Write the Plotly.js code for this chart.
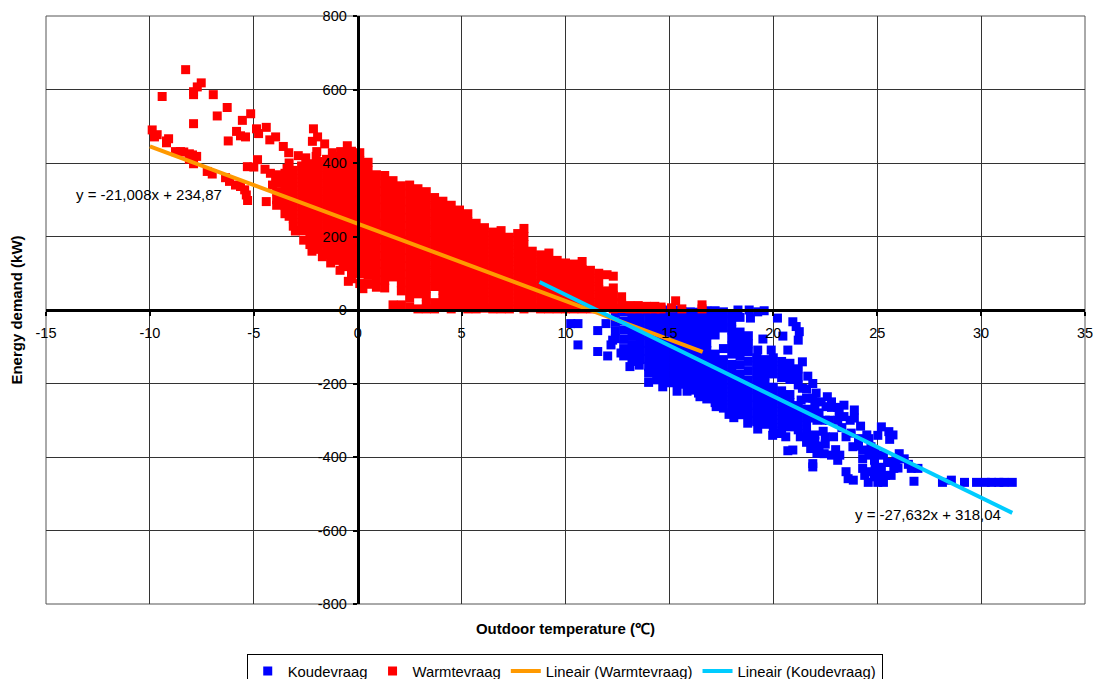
<!DOCTYPE html>
<html>
<head>
<meta charset="utf-8">
<script src="https://cdn.plot.ly/plotly-3.0.1.min.js"></script>
<style>html,body{margin:0;padding:0;width:1093px;height:679px;overflow:hidden;background:#fff}</style>
</head>
<body>
<div id="chart"></div>
<script>
// Warmtevraag: scattered points of the cold spell as [temperature, demand]
const warmColdSpell = [[-8.28,654],[-9.41,581],[-7.53,618],[-7.72,607],[-7.9,594],[-7.9,586],[-6.95,586],[-6.28,551],[-6.76,528],[-7.9,507],[-5.15,534],[-5.55,516],[-6.23,460],[-5.83,486],[-5.64,474],[-5.4,471],[-4.87,493],[-4.77,480],[-4.4,497],[-4.23,463],[-3.95,471],[-3.58,445],[-3.32,428],[-2.86,420],[-3.3,400],[-2.13,493],[-1.93,471],[-2.18,459],[-1.59,452],[-1.97,431],[-1.22,428],[-0.82,431],[-0.5,447],[-9.89,490],[-9.65,477],[-9.78,471],[-9.1,466],[-9.2,460],[-9.2,455],[-8.77,431],[-8.53,431],[-8.37,430],[-8.1,425],[-7.95,422],[-7.75,418],[-8.1,410],[-7.9,398],[-7.24,377],[-7,370],[-6.36,360],[-6.17,350],[-5.88,340],[-5.64,336],[-5.44,327],[-5.36,313],[-5.3,298],[-4.4,295],[-5.31,390],[-5,389],[-4.82,409],[-4.46,383],[-4.2,372],[-3.95,362],[-3.7,350],[-3.4,385],[-2.5,414],[-2.0,418],[-4.1,340],[-3.7,318],[-3.9,285],[-3.3,255],[-3.0,215],[-2.6,190],[-2.2,160],[-1.7,145],[-1.3,128],[-0.85,108],[-0.45,78],[0.25,58]];
// Warmtevraag: the dense cloud, one list of demand values per temperature
const warmCoreColumns = [
[-3.9,[368,345,322,300]],
[-3.5,[372,350,328,306,284,262]],
[-3.1,[380,358,336,314,292,270,248,228]],
[-2.7,[392,370,348,326,304,282,260,238,216]],
[-2.3,[398,376,354,332,310,288,266,244,222,200,178]],
[-1.9,[404,382,360,338,316,294,272,250,228,206,184,165]],
[-1.5,[410,388,366,344,322,300,278,256,234,212,190,168,150]],
[-1.1,[418,396,374,352,330,308,286,264,242,220,198,176,154,135]],
[-0.7,[425,403,381,359,337,315,293,271,249,227,205,183,161,139,118]],
[-0.3,[432,410,388,366,344,322,300,278,256,234,212,190,168,146,124,102,85]],
[0.1,[428,406,384,362,340,318,296,274,252,230,208,186,164,142,120,98,72]],
[0.5,[402,380,358,336,314,292,270,248,226,204,182,160,138,116,94,70]],
[0.9,[368,346,324,302,280,258,236,214,192,170,148,126,104,82,62]],
[1.3,[366,344,322,300,278,256,234,212,190,168,146,124,102,80,60]],
[1.7,[352,330,308,286,264,242,220,198,176,154,132,110,90,14]],
[2.1,[338,316,294,272,250,228,206,184,162,140,118,96,74,52,14]],
[2.5,[340,318,296,274,252,230,208,186,164,142,120,98,76,54,32,8]],
[2.9,[330,308,286,264,242,220,198,176,154,132,110,88,66,44,3]],
[3.3,[322,300,278,256,234,212,190,168,146,124,102,80,58,36,14,3]],
[3.7,[306,284,262,240,218,196,174,152,130,108,86,64,20,3]],
[4.1,[296,274,252,230,208,186,164,142,120,98,76,54,32,10]],
[4.5,[285,263,241,219,197,175,153,131,109,87,65,43,21,3]],
[4.9,[272,250,228,206,184,162,140,118,96,74,52,30,8]],
[5.3,[262,240,218,196,174,152,130,108,86,64,42,20,3]],
[5.7,[236,214,192,170,148,126,104,82,60,38,16,3]],
[6.1,[224,202,180,158,136,114,92,70,48,26,5]],
[6.5,[212,190,168,146,124,102,80,58,36,14,3]],
[6.9,[216,194,172,150,128,106,84,62,40,18,3]],
[7.3,[198,176,154,132,110,88,66,44,22,3]],
[7.7,[208,186,164,142,120,98,76,54,32,10]],
[8.0,[222,200,178,156,134,112,90,68,46,24,3]],
[8.4,[160,138,116,94,72,50,28,6]],
[8.8,[150,128,106,84,62,40,18,3]],
[9.2,[155,133,111,89,67,45,23,3]],
[9.6,[135,113,91,69,47,25,3]],
[10,[128,106,84,62,40,18,3]],
[10.4,[125,103,81,59,37,15,3]],
[10.8,[132,110,88,66,44,22,3]],
[11.2,[108,86,64,42,20,3]],
[11.6,[100,78,56,34,12]],
[12.0,[96,52,30,8]],
[12.3,[92,60,40,20,3]],
[12.7,[36,16,4]],
[13.1,[12,3]],
[13.5,[12,3]],
[13.9,[10,3]],
[14.3,[10,3]],
[14.6,[8,3]]
];
const warmStragglers = [[15.3,25],[15.6,3],[16.57,14],[16.57,3],[15.1,6]];

// Koudevraag: edges and outliers as [temperature, demand]
const coolScatter = [[10.6,-37],[10.25,-37],[10.6,-95],[11.55,-56],[11.55,-113],[12.03,-125],[11.95,-37],[12.27,-82],[12.19,-95],[12.67,-117],[13.1,-154],[13.55,-150],[14,-197],[14.68,-209],[15.37,-221],[15.85,-221],[16.47,-236],[17.25,-263],[17.87,-284],[18.1,-293],[18.77,-308],[19.25,-324],[19.97,-341],[20.3,-336],[20.7,-383],[20.94,-381],[21.9,-427],[21.9,-418],[21.8,-377],[22.45,-391],[23.1,-409],[23.5,-440],[23.6,-459],[23.85,-463],[24.57,-469],[25.03,-469],[25.3,-469],[26.77,-466],[28.14,-469],[28.57,-463],[29.2,-469],[29.78,-469],[30.2,-469],[30.5,-469],[30.85,-469],[31.1,-469],[31.5,-469],[25.2,-318],[25.03,-341],[25.56,-331],[25.76,-340],[25.6,-352],[26.06,-391],[26.64,-431],[26.96,-431],[25.8,-431],[25.67,-450],[24.86,-454],[24.3,-431],[24.3,-381],[24.87,-409],[25.2,-428],[24.7,-372],[23.83,-372],[20.94,-32],[21.1,-45],[21.25,-59],[21.2,-82],[20.2,-22],[20.46,-71],[19.56,-2],[19.25,-5],[18.9,-22],[18.84,0],[18.3,0],[19.5,-79],[19.25,-109],[19.9,-109],[20.7,-109],[21.4,-141],[21.66,-180],[21.4,-213],[22.06,-226],[22.6,-236],[22.54,-263],[21.34,-245],[23.4,-259],[23.9,-272],[23.17,-277],[23.9,-294],[24.2,-316],[23.75,-335],[23.3,-320],[22.9,-345],[22.4,-330],[22.1,-300],[22.5,-365],[23,-380],[24.6,-395],[25.3,-395],[25.5,-415],[24.9,-430],[25.4,-450],[24.3,-405],[22.7,-300],[24.6,-350],[21.6,-360],[21.9,-350],[22.2,-370],[22.5,-345],[22.8,-395],[23.2,-395],[22.8,-265],[23.1,-300],[23.5,-345],[23.7,-300],[21.9,-240],[22.3,-250],[22.8,-250],[24.1,-350],[24.5,-340],[24.1,-370],[24.4,-450],[24.7,-440],[25,-440],[25.2,-455],[25.8,-415],[26,-430],[25.9,-410],[26.3,-405],[26.5,-420],[23.4,-290],[23.1,-265],[21.9,-200],[22.2,-280],[22.5,-300],[24.9,-385],[22.1,-390],[21.3,-345],[20.6,-345]];
// Koudevraag: the dense band, one list of demand values per temperature
const coolCoreColumns = [
[12.4,[-8,-32,-56,-78]],
[12.8,[-5,-30,-55,-80,-105,-125]],
[13.2,[-5,-28,-50,-72,-95,-118,-140]],
[13.6,[-3,-25,-47,-69,-91,-113,-135]],
[14.0,[0,-22,-44,-66,-88,-110,-132,-154,-172]],
[14.4,[0,-22,-44,-66,-88,-110,-132,-154,-176,-190]],
[14.8,[0,-22,-44,-66,-88,-110,-132,-154,-176,-198]],
[15.2,[0,-22,-44,-66,-88,-110,-132,-154,-176,-198]],
[15.6,[-4,-26,-48,-70,-92,-114,-136,-158,-180,-202]],
[16.0,[-5,-27,-49,-71,-93,-115,-137,-159,-181,-203,-218]],
[16.4,[-6,-28,-50,-72,-94,-116,-138,-160,-182,-204,-226]],
[16.8,[-2,-24,-46,-68,-90,-110,-132,-154,-176,-198,-220,-242]],
[17.2,[-2,-24,-46,-68,-120,-142,-164,-186,-208,-230,-252]],
[17.6,[-5,-27,-49,-105,-135,-157,-179,-201,-223,-245,-267]],
[18.0,[-10,-32,-54,-76,-98,-120,-148,-170,-192,-214,-236,-258,-280]],
[18.4,[-20,-60,-82,-104,-126,-150,-175,-197,-219,-241,-263,-285]],
[18.8,[-70,-92,-114,-140,-165,-190,-212,-234,-256,-278,-300]],
[19.2,[-130,-150,-172,-194,-216,-238,-260,-282,-304]],
[19.6,[-135,-157,-179,-201,-223,-245,-267,-289,-311]],
[20.0,[-130,-152,-174,-210,-232,-254,-276,-298,-320]],
[20.4,[-140,-162,-184,-220,-242,-264,-286,-308,-330]],
[20.8,[-145,-167,-189,-230,-252,-274,-296,-318]],
[21.2,[-160,-182,-204,-260,-282,-304,-326]],
[21.6,[-215,-240,-270,-292,-314,-336]],
[22.0,[-250,-272,-294,-340,-358]]
];

const warmTrendX = [-10, 16.6];
const warmTrendY = [445, -114];
const coolTrendX = [8.75, 31.5];
const coolTrendY = [76, -552];

const xTicks = [-15,-10,-5,0,5,10,15,20,25,30,35];
const xTickLabels = ['-15','-10','-5','0','5','10','15','20','25','30','35'];
const yTicks = [-800,-600,-400,-200,0,200,400,600,800];
const yTickLabels = ['-800','-600','-400','-200','0','200','400','600','800'];
const seriesNames = ['Koudevraag','Warmtevraag','Lineair (Warmtevraag)','Lineair (Koudevraag)'];

function flatten(columns){
  const pts = [];
  columns.forEach(function(c){ c[1].forEach(function(v){ pts.push([c[0],v]); }); });
  return pts;
}
const coolPts = coolScatter.concat(flatten(coolCoreColumns));
const warmPts = warmColdSpell.concat(flatten(warmCoreColumns), warmStragglers);
const FONT = 'Liberation Sans, Arial, sans-serif';

const traces = [
  {type:'scatter',mode:'markers',name:seriesNames[0],x:coolPts.map(p=>p[0]),y:coolPts.map(p=>p[1]),
   marker:{symbol:'square',size:9,color:'#0000ff'}},
  {type:'scatter',mode:'markers',name:seriesNames[1],x:warmPts.map(p=>p[0]),y:warmPts.map(p=>p[1]),
   marker:{symbol:'square',size:9,color:'#ff0000'}},
  {type:'scatter',mode:'lines',name:seriesNames[2],x:warmTrendX,y:warmTrendY,line:{color:'#ff9900',width:4}},
  {type:'scatter',mode:'lines',name:seriesNames[3],x:coolTrendX,y:coolTrendY,line:{color:'#00ccff',width:4}}
];
const axisBase = {showline:true,linecolor:'#000',linewidth:3,showgrid:true,gridcolor:'#333',gridwidth:1,
  zeroline:false,ticks:'outside',ticklen:4,tickwidth:2,tickcolor:'#000',tickfont:{family:FONT,size:14.5,color:'#000'},
  anchor:'free',automargin:false,tickmode:'array',ticklabeloverflow:'allow'};
const layout = {
  width:1093,height:700,paper_bgcolor:'#fff',plot_bgcolor:'#fff',
  margin:{l:46,r:8,t:16,b:96},
  font:{family:FONT,size:14.5,color:'#000'},
  showlegend:true,
  legend:{orientation:'h',x:0.1932,xanchor:'left',y:-0.085,yanchor:'top',bgcolor:'#fff',bordercolor:'#000',borderwidth:1,
    itemwidth:30,traceorder:'normal',font:{family:FONT,size:14.8,color:'#000'}},
  xaxis:Object.assign({},axisBase,{range:[-15,35],tickvals:xTicks,ticktext:xTickLabels,position:0.5,ticklabelstandoff:5,
    title:{text:'Outdoor temperature (℃)',standoff:283,font:{family:FONT,size:15,color:'#000',weight:'bold'}}}),
  yaxis:Object.assign({},axisBase,{range:[-800,800],tickvals:yTicks,ticktext:yTickLabels,position:0.3,ticklabelstandoff:3,
    title:{text:'Energy demand (kW)',standoff:290,font:{family:FONT,size:15,color:'#000',weight:'bold'}}}),
  shapes:[{type:'rect',xref:'paper',yref:'paper',x0:0,x1:1,y0:0,y1:1,layer:'below',line:{color:'#555',width:1}}],
  annotations:[
    {xref:'x',yref:'y',x:-10.05,y:313,text:'y = -21,008x + 234,87',showarrow:false,font:{family:FONT,size:15,color:'#000'}},
    {xref:'x',yref:'y',x:27.46,y:-556,text:'y = -27,632x + 318,04',showarrow:false,font:{family:FONT,size:15,color:'#000'}}
  ]
};
Plotly.newPlot('chart',traces,layout,{displayModeBar:false,staticPlot:true});
</script>
</body>
</html>
